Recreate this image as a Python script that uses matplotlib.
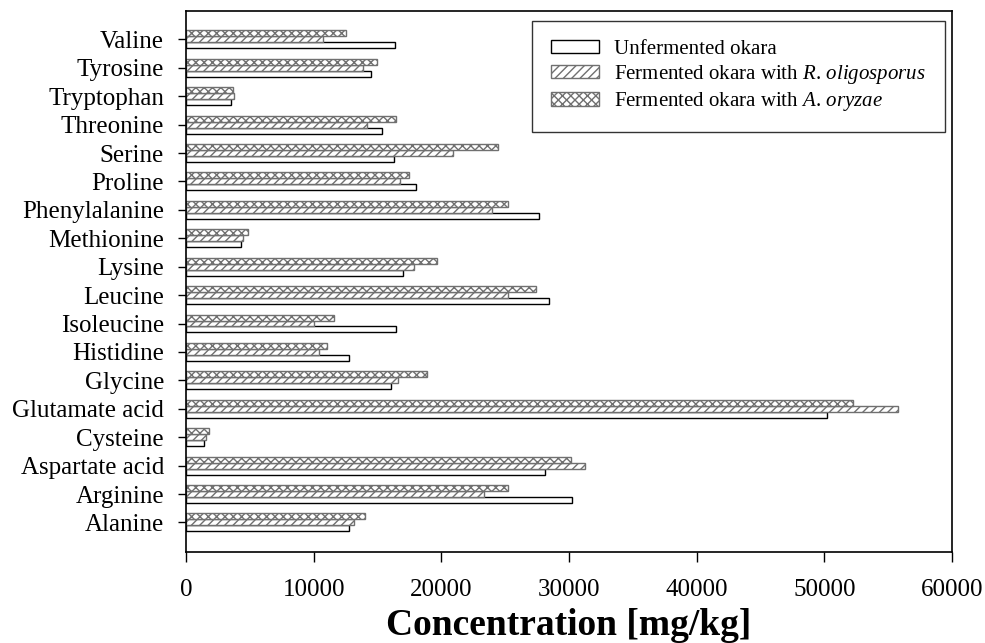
import matplotlib
matplotlib.use("Agg")
import matplotlib.pyplot as plt
import numpy as np

plt.rcParams["font.family"] = ["Liberation Serif", "DejaVu Serif"]
plt.rcParams["mathtext.fontset"] = "custom"
plt.rcParams["mathtext.rm"] = "Liberation Serif"
plt.rcParams["mathtext.it"] = "Liberation Serif:italic"
plt.rcParams["hatch.linewidth"] = 1.0

# Amino acid content, bottom-to-top order on the chart
amino_acids = ["Alanine", "Arginine", "Aspartate acid", "Cysteine", "Glutamate acid",
               "Glycine", "Histidine", "Isoleucine", "Leucine", "Lysine", "Methionine",
               "Phenylalanine", "Proline", "Serine", "Threonine", "Tryptophan",
               "Tyrosine", "Valine"]
unfermented = [12730, 30200, 28090, 1360, 50240, 16070, 12730, 16430, 28440, 17010,
               4290, 27620, 18000, 16280, 15340, 3480, 14500, 16360]
r_oligosporus = [13170, 23350, 31220, 1540, 55800, 16590, 10380, 10030, 25190, 17850,
                 4470, 23930, 16750, 20920, 14140, 3760, 13820, 10710]
a_oryzae = [14030, 25190, 30150, 1800, 52270, 18890, 11000, 11570, 27440, 19670,
            4810, 25210, 17430, 24430, 16460, 3680, 14920, 12490]
x_ticks = [0, 10000, 20000, 30000, 40000, 50000, 60000]

fig = plt.figure(figsize=(9.85, 6.43), dpi=100)
ax = fig.add_axes([0.189, 0.142, 0.7775, 0.841])

y = np.arange(len(amino_acids))
h = 0.21
gray = "#707070"

ax.barh(y - h, unfermented, height=h, color="white", edgecolor="black",
        linewidth=1.0, label="Unfermented okara")
ax.barh(y, r_oligosporus, height=h, color="white", edgecolor=gray, hatch="////",
        linewidth=1.0, label=r"Fermented okara with $\it{R.\,oligosporus}$")
ax.barh(y + h, a_oryzae, height=h, color="white", edgecolor=gray, hatch="xxxx",
        linewidth=1.0, label=r"Fermented okara with $\it{A.\,oryzae}$")

ax.set_xlim(0, 60000)
ax.set_ylim(-1.03, 18.0)
ax.set_xticks(x_ticks)
ax.set_xticklabels([str(v) for v in x_ticks])
ax.set_yticks(y)
ax.set_yticklabels(amino_acids)

ax.tick_params(axis="x", direction="out", length=7.5, width=1.0, labelsize=18, pad=12)
ax.tick_params(axis="y", direction="out", length=6, width=1.0, labelsize=18, pad=10)
for sp in ax.spines.values():
    sp.set_linewidth(1.2)
    sp.set_color("black")

ax.set_xlabel("Concentration [mg/kg]", fontsize=27, fontweight="bold", labelpad=5)

leg = ax.legend(loc="upper right", bbox_to_anchor=(0.991, 0.9815), borderaxespad=0,
                fontsize=15, frameon=True, fancybox=False, edgecolor="black",
                handlelength=2.3, handleheight=0.62, handletextpad=0.75,
                borderpad=0.9, labelspacing=0.2)
leg.get_frame().set_linewidth(1.0)

fig.savefig("out.png", dpi=100)
